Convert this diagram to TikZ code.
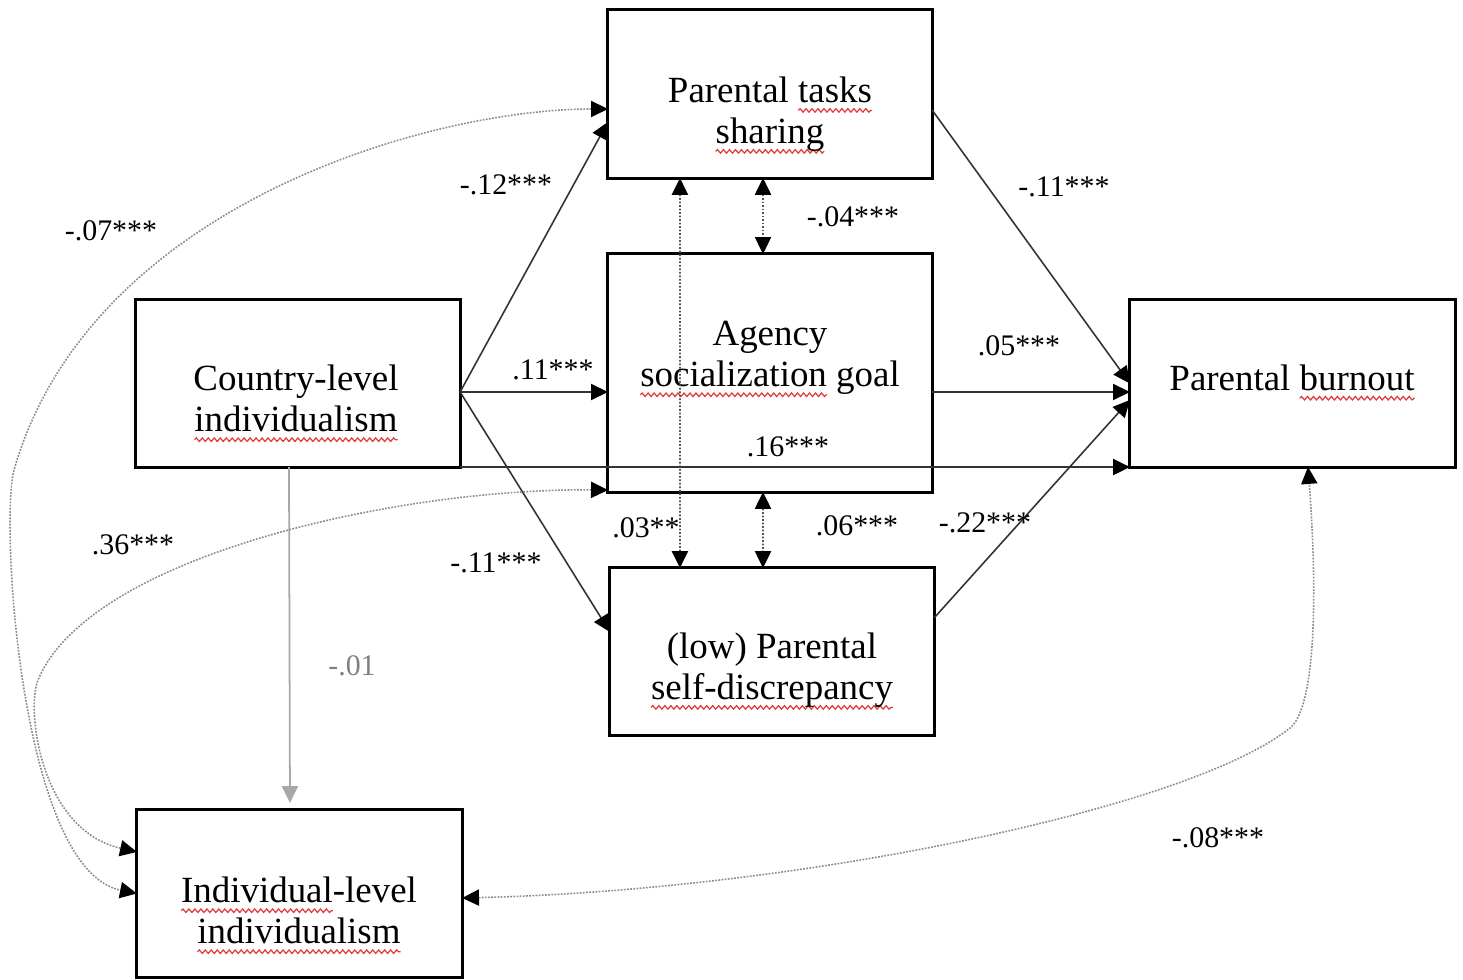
\documentclass[tikz,border=0pt]{standalone}
\usepackage{fontspec}
\setmainfont{Liberation Serif}
\usetikzlibrary{arrows.meta,decorations.pathmorphing,calc}
\definecolor{lineg}{HTML}{333333}
\definecolor{dotg}{HTML}{555555}
\definecolor{curvg}{HTML}{8C8C8C}
\definecolor{lightg}{HTML}{A8A8A8}
\definecolor{sqred}{HTML}{E03A3A}
\newlength\sqlen
\newcommand\sq[1]{\settowidth\sqlen{#1}\rlap{\tikz[overlay]\draw[squig] (0pt,-2.3pt) -- (\sqlen,-2.3pt);}#1}
\tikzset{
  squig/.style={draw=sqred, line width=0.35pt, decorate, decoration={snake, amplitude=0.5pt, segment length=1.7pt}},
  tip/.tip={Triangle[length=4.8pt,width=4.6pt]},
}
\begin{document}
\begin{tikzpicture}[x=0.01cm,y=-0.01cm,
  box/.style={draw, line width=0.85pt, minimum width=3.24cm, minimum height=1.67cm, inner sep=0pt, outer sep=0pt},
  txt/.style={align=center, font=\fontsize{10.5}{11.65}\selectfont, inner sep=0pt},
  lab/.style={font=\fontsize{8.5}{10}\selectfont, inner sep=0pt},
  conn/.style={draw=lineg, line width=0.45pt, -{tip[color=black]}},
  cov/.style={draw=dotg, line width=0.5pt, dash pattern=on 0.5pt off 0.5pt, {tip[color=black]}-{tip[color=black]}},
  curv/.style={draw=curvg, line width=0.45pt, dash pattern=on 0.5pt off 0.4pt, {tip[color=black]}-{tip[color=black]}},
  grayconn/.style={draw=lightg, line width=0.5pt, -{tip[color=lightg]}, shorten >=0.07cm},
]
\useasboundingbox (0,0) rectangle (1463,980);

% boxes
\node[box, minimum height=1.68cm] (tasks) at (770,94) {};
\node[box, minimum height=2.38cm] (agency) at (770,373) {};
\node[box] (disc) at (772,651.5) {};
\node[box] (country) at (298,383.5) {};
\node[box, minimum width=3.25cm] (burnout) at (1292.5,383.5) {};
\node[box, minimum width=3.25cm] (indiv) at (299.5,893.5) {};

% box texts
\node[txt] (tasksT) at (770,114) {Parental \sq{tasks}\\\sq{sharing}};
\node[txt] (agencyT) at (770,358) {Agency\\\sq{socialization} goal};
\node[txt] (countryT) at (296,398.5) {Country-level\\\sq{individualism}};
\node[txt] (burnoutT) at (1292,377.5) {Parental \sq{burnout}};
\node[txt] (discT) at (772,670) {(low) Parental\\\sq{self-discrepancy}};
\node[txt] (indivT) at (299,910.5) {\sq{Individual}-level\\\sq{individualism}};

% directed paths
\draw[conn] ([yshift=-0.085cm]country.east) -- ([yshift=-0.28cm]tasks.west);
\draw[conn] ([yshift=-0.085cm]country.east) -- ([yshift=-0.19cm]agency.west);
\draw[conn] ([yshift=-0.085cm]country.east) -- ([yshift=0.195cm]disc.west);
\draw[conn] (country.south east) -- (burnout.south west);
\draw[conn] ([yshift=-0.19cm]agency.east) -- ([yshift=-0.085cm]burnout.west);
\draw[conn] ([yshift=-0.16cm]tasks.east) -- (burnout.west);
\draw[conn] ([yshift=0.335cm]disc.east) -- ([yshift=-0.165cm]burnout.west);
\draw[grayconn] ([xshift=-0.09cm]country.south) -- ([xshift=-0.095cm]indiv.north);

% covariances between mediators
\draw[cov] ([xshift=-0.07cm]tasks.south) -- ([xshift=-0.07cm]agency.north);
\draw[cov] ([xshift=-0.07cm]agency.south) -- ([xshift=-0.09cm]disc.north);
\draw[cov] ([xshift=-0.9cm]tasks.south) -- ([xshift=-0.92cm]disc.north);

% curved covariances
\draw[curv] ([yshift=-0.15cm]tasks.west) .. controls (430,109) and (90,205) .. (14,470)
  .. controls (0,520) and (20,870) .. (indiv.west);
\draw[curv] ([yshift=-1.17cm]agency.west) .. controls (400,488) and (90,555) .. (38,680)
  .. controls (26,709) and (40,830) .. ([yshift=0.415cm]indiv.west);
\draw[curv] ([yshift=-0.045cm]indiv.east) .. controls (800,890) and (1190,808) .. (1290,728)
  .. controls (1315,708) and (1318,600) .. ([xshift=0.155cm]burnout.south);

% labels
\node[lab] (m07) at (111,231) {-.07***};
\node[lab] (m12) at (506,185) {-.12***};
\node[lab] (p11) at (553,370) {.11***};
\node[lab] (m04) at (853,217) {-.04***};
\node[lab] (m11a) at (1064,187) {-.11***};
\node[lab] (p05) at (1019,346) {.05***};
\node[lab] (p16) at (788,447) {.16***};
\node[lab] (p36) at (133,545) {.36***};
\node[lab] (p03) at (646,528) {.03**};
\node[lab] (p06) at (857,526) {.06***};
\node[lab] (m22) at (985,523) {-.22***};
\node[lab] (m11b) at (496,563) {-.11***};
\node[lab, text=black!50] (m01) at (352,666) {-.01};
\node[lab] (m08) at (1218,838) {-.08***};
\end{tikzpicture}
\end{document}
